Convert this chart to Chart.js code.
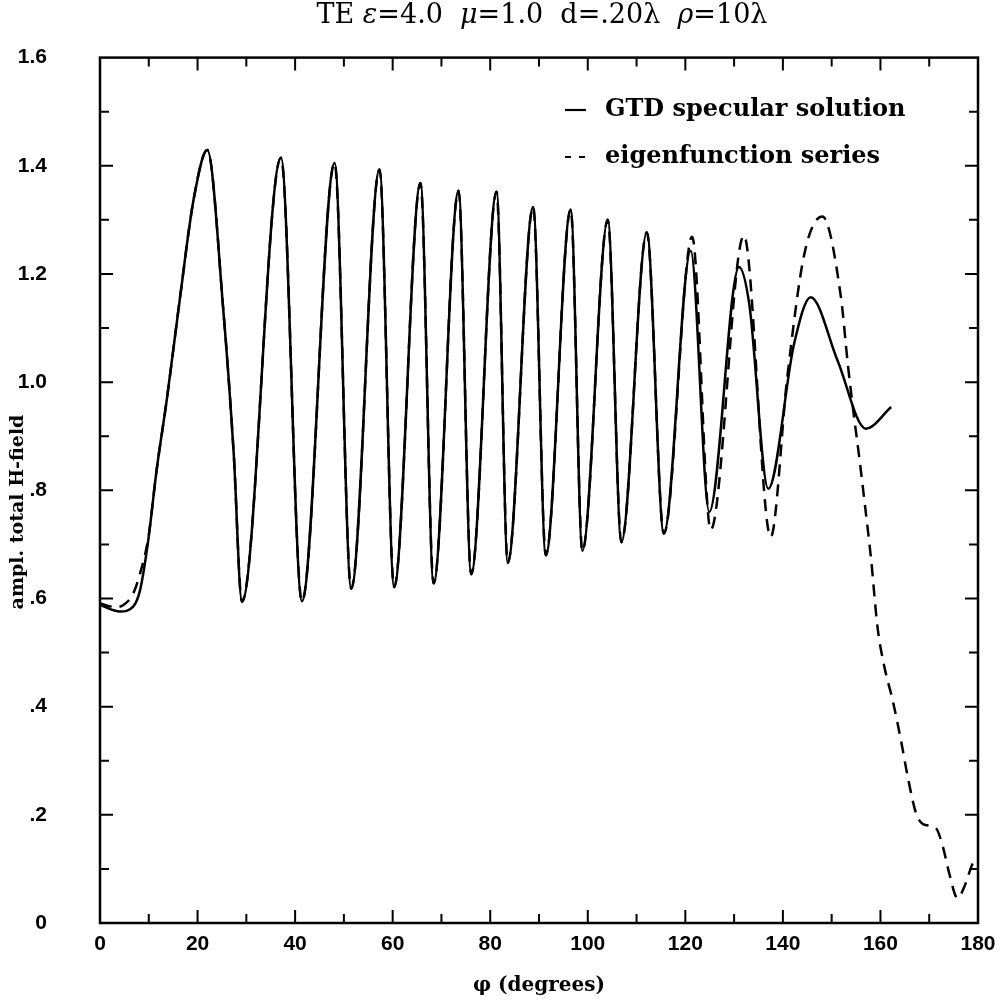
<!DOCTYPE html>
<html lang="en">
<head>
    <meta charset="UTF-8">
    <title>TE field amplitude</title>
    <style>
        body { margin: 0; background: #fff; }
        #chart-container { width: 1000px; height: 1001px; }
    </style>
</head>
<body>
<div id="chart-container">
    <canvas id="fieldChart" width="1000" height="1001"></canvas>
</div>
<script src="https://cdn.jsdelivr.net/npm/chart.js"></script>
<script>
    // GTD specular solution (solid line)
    const gtdPhi = [0, 4.1, 6.8, 8.2, 9.9, 11.6, 13.7, 16.4, 19.2, 22.0, 25.3, 27.4,
        29.1, 37.1, 41.4, 48.1, 51.5, 57.3, 60.3, 65.7, 68.4, 73.5, 76.1, 81.3, 83.6, 88.8,
        91.4, 96.5, 98.9, 104.1, 106.9, 112.1, 115.6, 121.1, 124.9, 131.0, 133.1, 137.0,
        142.3, 145.7, 151.2, 157.0, 162.2];
    const gtdAmp = [0.588, 0.576, 0.585, 0.615, 0.708, 0.837, 0.968, 1.156, 1.338, 1.429, 1.131, 0.870,
        0.594, 1.415, 0.595, 1.405, 0.618, 1.393, 0.621, 1.368, 0.628, 1.354, 0.645, 1.352, 0.666, 1.324,
        0.680, 1.319, 0.688, 1.300, 0.704, 1.277, 0.720, 1.243, 0.760, 1.213, 1.145, 0.803,
        1.071, 1.157, 1.040, 0.914, 0.954];

    // eigenfunction series (dashed line)
    const eigPhi = [0, 3.1, 4.8, 6.8, 8.2, 9.9, 11.6, 13.7, 16.4, 19.2, 22.0, 25.3, 27.4,
        29.1, 37.1, 41.4, 48.1, 51.5, 57.3, 60.3, 65.7, 68.4, 73.5, 76.1, 81.3, 83.6, 88.8,
        91.4, 96.5, 98.9, 104.1, 106.9, 112.1, 115.6, 121.4, 125.2, 132.0, 137.5, 140.9,
        144.4, 148.1, 151.9, 153.3, 154.6, 155.6, 156.7, 158.1, 159.4, 160.8, 162.5, 164.2,
        165.6, 167.3, 168.7, 171.4, 172.8, 174.1, 175.8, 177.2, 178.9, 179.6];
    const eigAmp = [0.591, 0.584, 0.588, 0.609, 0.646, 0.712, 0.837, 0.968, 1.156, 1.338, 1.429, 1.131, 0.870,
        0.594, 1.415, 0.595, 1.405, 0.618, 1.393, 0.621, 1.368, 0.628, 1.354, 0.645, 1.352, 0.666, 1.324,
        0.680, 1.319, 0.688, 1.300, 0.704, 1.277, 0.720, 1.269, 0.727, 1.271, 0.714, 1.009,
        1.237, 1.306, 1.157, 1.034, 0.935, 0.865, 0.782, 0.671, 0.547, 0.474, 0.412, 0.338,
        0.270, 0.203, 0.183, 0.175, 0.141, 0.092, 0.046, 0.067, 0.110, 0.120];

    const seriesLabels = ['GTD specular solution', 'eigenfunction series'];
    const titleParts = [['TE ', false], ['ε', true], ['=4.0  ', false], ['μ', true],
        ['=1.0  d=.20λ  ', false], ['ρ', true], ['=10λ', false]];
    const xTitle = 'φ (degrees)';
    const yTitle = 'ampl. total H-field';

    function toPoints(xs, ys) {
        return xs.map((x, i) => ({x: x, y: ys[i]}));
    }

    // frame, inward ticks, title, y title and legend
    const decorations = {
        id: 'decorations',
        afterDatasetsDraw(chart) {
            const ctx = chart.ctx;
            const area = chart.chartArea;
            const xs = chart.scales.x;
            const ys = chart.scales.y;
            ctx.save();
            ctx.strokeStyle = '#000';
            ctx.lineWidth = 2.5;
            ctx.strokeRect(area.left, area.top, area.right - area.left, area.bottom - area.top);

            ctx.lineWidth = 2;
            for (let v = 10; v < 180; v += 10) {
                const px = xs.getPixelForValue(v);
                const len = v % 20 === 0 ? 13 : 9;
                ctx.beginPath();
                ctx.moveTo(px, area.bottom); ctx.lineTo(px, area.bottom - len);
                ctx.moveTo(px, area.top); ctx.lineTo(px, area.top + len);
                ctx.stroke();
            }
            for (let i = 1; i < 16; i++) {
                const py = ys.getPixelForValue(i / 10);
                const len = i % 2 === 0 ? 13 : 9;
                ctx.beginPath();
                ctx.moveTo(area.left, py); ctx.lineTo(area.left + len, py);
                ctx.moveTo(area.right, py); ctx.lineTo(area.right - len, py);
                ctx.stroke();
            }

            // title with italic greek letters
            ctx.fillStyle = '#000';
            ctx.textBaseline = 'middle';
            ctx.textAlign = 'left';
            const normal = '27px "DejaVu Serif", serif';
            const italic = 'italic 27px "DejaVu Serif", serif';
            let total = 0;
            titleParts.forEach(p => { ctx.font = p[1] ? italic : normal; total += ctx.measureText(p[0]).width; });
            let tx = 542 - total / 2;
            titleParts.forEach(p => {
                ctx.font = p[1] ? italic : normal;
                ctx.fillText(p[0], tx, 16);
                tx += ctx.measureText(p[0]).width;
            });

            // y axis title
            ctx.save();
            ctx.translate(18, 512);
            ctx.rotate(-Math.PI / 2);
            ctx.textAlign = 'center';
            ctx.font = 'bold 19px "DejaVu Serif", serif';
            ctx.fillText(yTitle, 0, 0);
            ctx.restore();

            // legend
            ctx.font = 'bold 24px "DejaVu Serif", serif';
            const rows = [110, 157];
            chart.data.datasets.forEach((ds, i) => {
                ctx.setLineDash(i === 1 ? [6, 8] : []);
                ctx.lineWidth = 2.2;
                ctx.beginPath();
                ctx.moveTo(565, rows[i]);
                ctx.lineTo(586, rows[i]);
                ctx.stroke();
                ctx.setLineDash([]);
                ctx.fillText(ds.label, 605, rows[i]);
            });
            ctx.restore();
        }
    };

    const ctx = document.getElementById('fieldChart').getContext('2d');
    const fieldChart = new Chart(ctx, {
        type: 'line',
        data: {
            datasets: [{
                label: seriesLabels[0],
                data: toPoints(gtdPhi, gtdAmp),
                borderColor: '#000',
                borderWidth: 2.5,
                pointRadius: 0,
                fill: false,
                cubicInterpolationMode: 'monotone'
            }, {
                label: seriesLabels[1],
                data: toPoints(eigPhi, eigAmp),
                borderColor: '#000',
                borderWidth: 2.5,
                borderDash: [12, 8],
                pointRadius: 0,
                fill: false,
                cubicInterpolationMode: 'monotone'
            }]
        },
        options: {
            responsive: false,
            animation: false,
            layout: { padding: { top: 57, right: 22, left: 0, bottom: 0 } },
            plugins: {
                legend: { display: false },
                tooltip: { enabled: false }
            },
            scales: {
                x: {
                    type: 'linear',
                    min: 0,
                    max: 180,
                    afterFit: s => { s.height = 78; },
                    grid: { display: false },
                    border: { display: false },
                    ticks: {
                        stepSize: 10,
                        autoSkip: false,
                        maxRotation: 0,
                        padding: 1,
                        color: '#000',
                        font: { family: '"Liberation Sans", Arial, sans-serif', size: 21, weight: 'bold' },
                        callback: v => (v % 20 === 0 ? String(v) : '')
                    },
                    title: {
                        display: true,
                        text: xTitle,
                        color: '#000',
                        font: { family: '"DejaVu Serif", serif', size: 20, weight: 'bold' },
                        padding: { top: 0, bottom: 3 }
                    }
                },
                y: {
                    type: 'linear',
                    min: 0,
                    max: 1.6,
                    afterFit: s => { s.width = 100; },
                    grid: { display: false },
                    border: { display: false },
                    ticks: {
                        stepSize: 0.1,
                        autoSkip: false,
                        padding: 45,
                        color: '#000',
                        font: { family: '"Liberation Sans", Arial, sans-serif', size: 21, weight: 'bold' },
                        callback: v => {
                            const k = Math.round(v * 10);
                            if (k % 2 !== 0) return '';
                            if (k === 0) return '0';
                            if (k < 10) return '.' + k;
                            return (k / 10).toFixed(1);
                        }
                    },
                    title: { display: false }
                }
            }
        },
        plugins: [decorations]
    });
</script>
</body>
</html>
